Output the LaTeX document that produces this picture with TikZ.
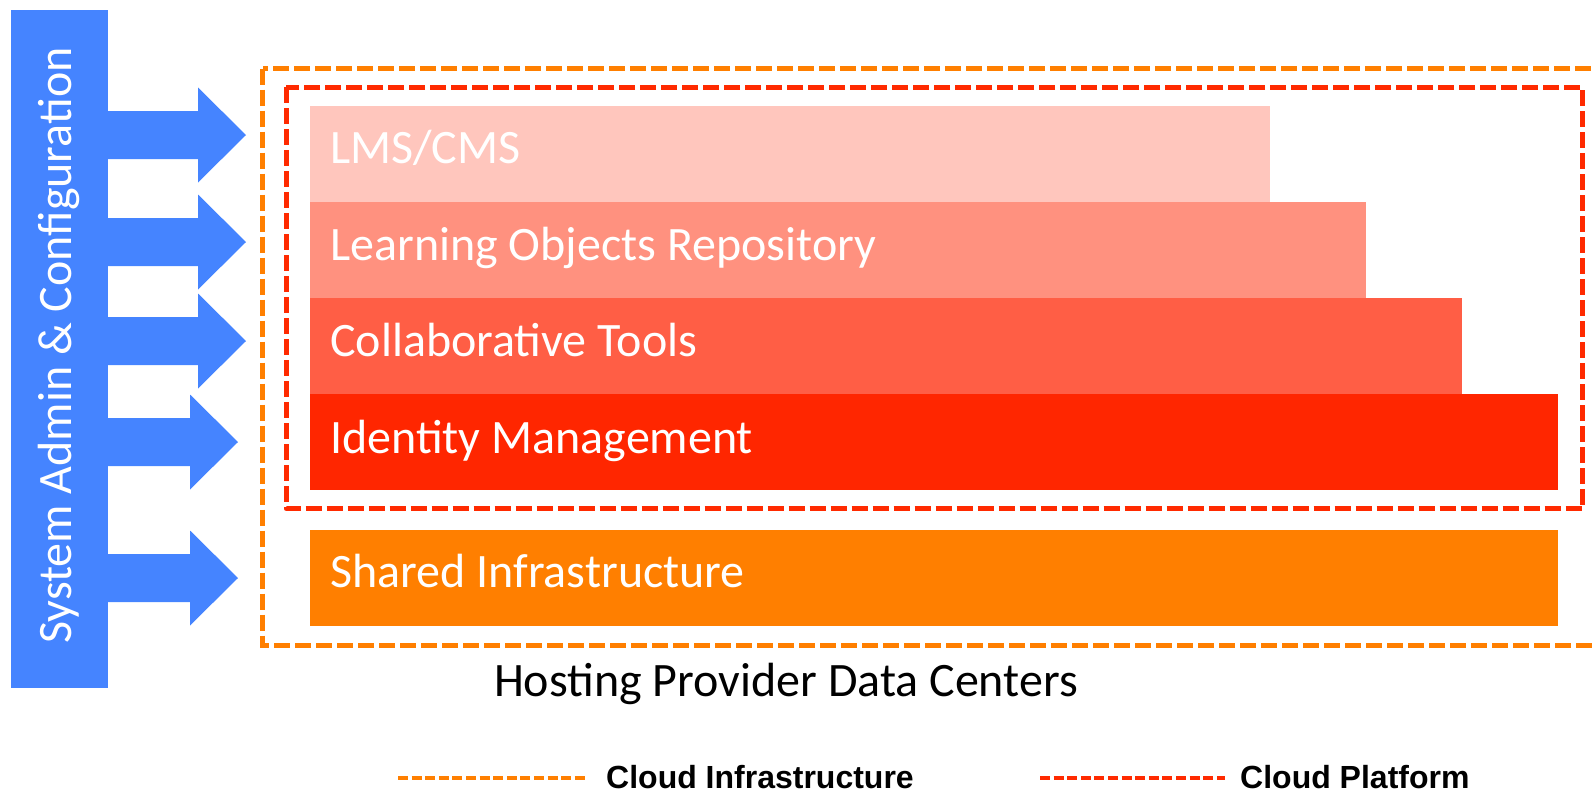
\documentclass[tikz,border=0pt]{standalone}
\usepackage{fontspec}
\setmainfont{Carlito}
\newfontfamily\legendfont{Liberation Sans}
\definecolor{adminblue}{HTML}{4584FF}
\definecolor{lmscol}{HTML}{FFC6BD}
\definecolor{lorcol}{HTML}{FF917F}
\definecolor{collabcol}{HTML}{FF5E45}
\definecolor{idcol}{HTML}{FF2600}
\definecolor{sharedcol}{HTML}{FF7F00}
\definecolor{infraline}{HTML}{FF7F00}
\definecolor{platline}{HTML}{FF2A00}
\tikzset{
  bartext/.style={anchor=base west, inner sep=0pt, text=white, font=\fontsize{48}{52}\selectfont},
  infrabox/.style={draw=infraline, line width=5pt, dash pattern=on 16pt off 5pt},
  platbox/.style={draw=platline, line width=5pt, dash pattern=on 16pt off 5pt, line join=round},
  legendline/.style={line width=4pt, dash pattern=on 10pt off 3.6pt},
  legendtext/.style={anchor=base west, inner sep=0pt, font=\legendfont\bfseries\fontsize{32}{35}\selectfont},
}
\begin{document}
\begin{tikzpicture}[x=1pt,y=-1pt]
\useasboundingbox (0,0) rectangle (1596,793);
\begin{scope}
\clip (0,0) rectangle (1596,793);
% admin bar
\fill[adminblue] (11,10) rectangle (108,688);
% arrows
\foreach \c/\b/\t in {135/198/246, 242/198/246, 341/198/246, 442/190/238, 578/190/238}{
  \fill[adminblue] (100,\c-24) -- (\b,\c-24) -- (\b,\c-47.5) -- (\t,\c) -- (\b,\c+47.5) -- (\b,\c+24) -- (100,\c+24) -- cycle;
}
\node[anchor=base, inner sep=0pt, rotate=90, text=white, font=\fontsize{48}{52}\selectfont] (admin) at (71,345.5) {System Admin \& Configuration};
% layer bars
\fill[lmscol] (310,106) rectangle (1270,202);
\fill[lorcol] (310,202) rectangle (1366,298);
\fill[collabcol] (310,298) rectangle (1462,394);
\fill[idcol] (310,394) rectangle (1558,490);
\fill[sharedcol] (310,530) rectangle (1558,626);
\node[bartext] (lms) at (330,163) {LMS/CMS};
\node[bartext] (lor) at (330,260) {Learning Objects Repository};
\node[bartext] (collab) at (330,356) {Collaborative Tools};
\node[bartext] (idm) at (330,453) {Identity Management};
\node[bartext] (shared) at (330,587) {Shared Infrastructure};
% dashed boxes
\draw[infrabox] (262.5,68.5) rectangle (1610,645);
\draw[platbox] (286,87) rectangle (1582.5,508.5);
\end{scope}
\node[anchor=base, inner sep=0pt, font=\fontsize{48}{52}\selectfont] (hosting) at (786,696) {Hosting Provider Data Centers};
% legend
\coordinate (l1a) at (398,778);
\coordinate (l1b) at (585,778);
\coordinate (l2a) at (1040,778);
\coordinate (l2b) at (1225,778);
\draw[legendline, draw=infraline] (l1a) -- (l1b);
\draw[legendline, draw=platline] (l2a) -- (l2b);
\node[legendtext] (leg1) at (606,788) {Cloud Infrastructure};
\node[legendtext] (leg2) at (1240,788) {Cloud Platform};
\end{tikzpicture}
\end{document}
